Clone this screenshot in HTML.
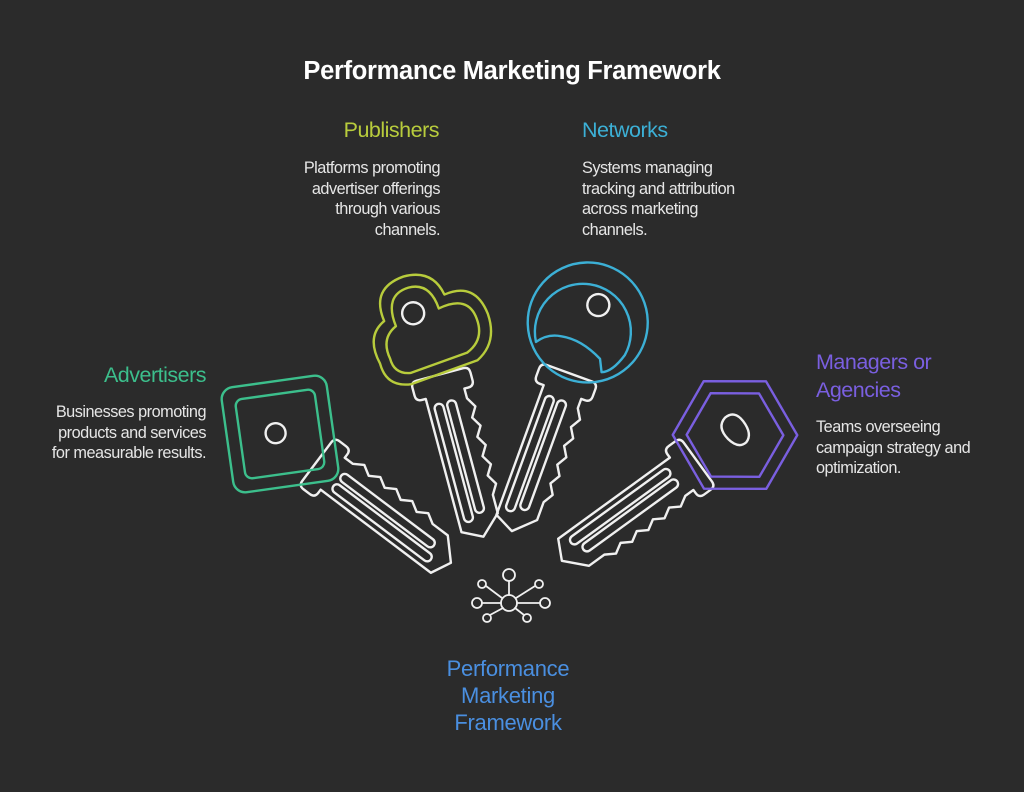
<!DOCTYPE html>
<html><head><meta charset="utf-8"><style>
body{margin:0;background:#2b2b2b;}
.c{position:relative;width:1024px;height:792px;background:#2b2b2b;font-family:"Liberation Sans",sans-serif;overflow:hidden}
.t{position:absolute;white-space:nowrap}
.h{font-size:21.5px;letter-spacing:-0.5px}
.b{font-size:16.3px;line-height:20.5px;color:#e6e6e6;letter-spacing:-0.5px}
svg{position:absolute;left:0;top:0}
</style></head><body><div class="c">
<div class="t" style="left:0;width:1024px;top:57px;text-align:center;color:#fff;font-weight:bold;font-size:25.5px;letter-spacing:-0.3px">Performance Marketing Framework</div>
<div class="t h" style="right:585px;top:118px;color:#b8cc3c;text-align:right">Publishers</div>
<div class="t b" style="right:584px;top:158px;text-align:right">Platforms promoting<br>advertiser offerings<br>through various<br>channels.</div>
<div class="t h" style="left:582px;top:118px;color:#3cb0d6">Networks</div>
<div class="t b" style="left:582px;top:158px">Systems managing<br>tracking and attribution<br>across marketing<br>channels.</div>
<div class="t h" style="right:818px;top:363px;color:#3cbf8c;text-align:right">Advertisers</div>
<div class="t b" style="right:818px;top:402px;text-align:right">Businesses promoting<br>products and services<br>for measurable results.</div>
<div class="t h" style="left:816px;top:348px;color:#7a5fe0;line-height:28px">Managers or<br>Agencies</div>
<div class="t b" style="left:816px;top:417px">Teams overseeing<br>campaign strategy and<br>optimization.</div>
<div class="t" style="left:0;width:1016px;top:655px;text-align:center;color:#4a8fe0;font-size:22px;line-height:27px;letter-spacing:-0.3px">Performance<br>Marketing<br>Framework</div>
<svg width="1024" height="792" viewBox="0 0 1024 792" fill="none" stroke-width="2.4" stroke-linejoin="round" stroke-linecap="round">
<defs>
<g id="blade" stroke="#f0f0f0">
<path d="M-30 52 Q-30 46 -24 46 L24 46 Q30 46 30 52 L30 60 Q30 66 24 66 L20 66 L20 76 L26 86 L20 96 L26 106 L20 116 L26 126 L20 136 L26 146 L20 156 L26 166 L20 176 L20 195 L0 214 L-20 204 L-20 66 L-24 66 Q-30 66 -30 60 Z"/>
<rect x="-14" y="74" width="9" height="122" rx="4.5"/>
<rect x="-1" y="74" width="9" height="116" rx="4.5"/>
</g>
</defs>
<g transform="translate(280,434) rotate(-53)">
<use href="#blade"/>
<g stroke="#3cbf8c" transform="rotate(45)">
<rect x="-53" y="-53" width="106" height="106" rx="12"/>
<rect x="-40" y="-40" width="80" height="80" rx="7"/>
</g>
<circle cx="-2" cy="-4" r="10" stroke="#f0f0f0"/>
</g>
<g transform="translate(428,330) rotate(-15)">
<use href="#blade"/>
<g stroke="#b8cc3c">
<path d="M-55 20 Q-62 -10 -40 -20 Q-45 -55 -10 -58 Q20 -58 25 -30 Q58 -35 62 0 Q64 30 40 42 L-30 48 Q-55 45 -55 20 Z"/>
<path d="M-44 18 Q-48 -4 -30 -12 Q-34 -45 -8 -46 Q14 -46 16 -18 Q48 -24 50 2 Q52 24 32 32 L-28 37 Q-44 34 -44 18 Z"/>
</g>
<circle cx="-10" cy="-20" r="11" stroke="#f0f0f0"/>
</g>
<g transform="translate(585,330) rotate(20)">
<use href="#blade"/>
<g stroke="#3cb0d6">
<circle cx="0" cy="-8" r="60"/>
<path d="M-42 28 A48 48 0 1 1 46 10 Q40 30 30 34 L24 22 Q0 10 -20 14 Q-34 16 -42 28 Z"/>
</g>
<circle cx="4" cy="-28" r="11" stroke="#f0f0f0"/>
</g>
<g transform="translate(735,435) rotate(54)">
<use href="#blade"/>
<g stroke="#7a5fe0">
<polygon points="0,-62 54,-31 54,31 0,62 -54,31 -54,-31" transform="rotate(-24)"/>
<polygon points="0,-48 42,-24 42,24 0,48 -42,24 -42,-24" transform="rotate(-24)"/>
</g>
<path d="M0 -20 Q12 -22 14 -8 Q16 8 6 12 Q-4 14 -8 0 Q-12 -16 0 -20 Z" stroke="#f0f0f0" transform="rotate(-84)"/>
</g>
<g stroke="#f0f0f0" stroke-width="1.8">
<circle cx="509" cy="603" r="8"/>
<circle cx="509" cy="575" r="6"/><line x1="509" y1="581" x2="509" y2="595"/>
<circle cx="477" cy="603" r="5"/><line x1="482" y1="603" x2="501" y2="603"/>
<circle cx="545" cy="603" r="5"/><line x1="517" y1="603" x2="540" y2="603"/>
<circle cx="482" cy="584" r="4"/><line x1="486" y1="586" x2="502" y2="598"/>
<circle cx="539" cy="584" r="4"/><line x1="535" y1="586" x2="516" y2="598"/>
<circle cx="487" cy="618" r="4"/><line x1="490" y1="615" x2="503" y2="608"/>
<circle cx="527" cy="618" r="4"/><line x1="524" y1="615" x2="515" y2="608"/>
</g>
</svg>
</div></body></html>
